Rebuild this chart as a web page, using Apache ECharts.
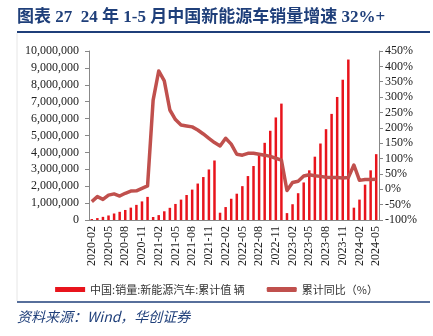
<!DOCTYPE html>
<html>
<head>
<meta charset="utf-8">
<script src="https://cdn.jsdelivr.net/npm/echarts@6/dist/echarts.min.js"></script>
<style>
  html, body { margin: 0; padding: 0; background: #ffffff; }
  #chart { width: 433px; height: 336px; }
</style>
</head>
<body>
<div id="chart"></div>
<script>
// Monthly cumulative NEV sales in China (units) and cumulative YoY growth (%)
const months = [
  '2020-02','2020-03','2020-04','2020-05','2020-06','2020-07','2020-08','2020-09','2020-10','2020-11','2020-12',
  '2021-01','2021-02','2021-03','2021-04','2021-05','2021-06','2021-07','2021-08','2021-09','2021-10','2021-11','2021-12',
  '2022-01','2022-02','2022-03','2022-04','2022-05','2022-06','2022-07','2022-08','2022-09','2022-10','2022-11','2022-12',
  '2023-01','2023-02','2023-03','2023-04','2023-05','2023-06','2023-07','2023-08','2023-09','2023-10','2023-11','2023-12',
  '2024-01','2024-02','2024-03','2024-04','2024-05'
];

const cumulativeSales = [
  57000, 114000, 186000, 268000, 385000, 484000, 594000, 732000, 895000, 1100000, 1367000,
  179000, 289000, 515000, 721000, 950000, 1206000, 1478000, 1799000, 2157000, 2542000, 2990000, 3521000,
  431000, 766000, 1257000, 1556000, 2003000, 2600000, 3194000, 3860000, 4567000, 5280000, 6068000, 6887000,
  408000, 933000, 1586000, 2222000, 2940000, 3747000, 4526000, 5374000, 6278000, 7280000, 8300000, 9495000,
  729000, 1207000, 2090000, 2940000, 3896000
];

const cumulativeYoY = [
  -40, -24, -33, -19, -15, -22, -13, -6, -5, 3, 11,
  290, 385, 353, 258, 227, 209, 206, 203, 193, 180, 166, 152,
  141, 166, 147, 114, 111, 117, 117, 114, 111, 107, 101, 95,
  -4, 22, 26, 43, 47, 44, 42, 39, 38, 38, 37, 38,
  79, 29, 32, 32, 33
];

const leftTicks = { min: 0, max: 10000000, step: 1000000 };
const rightTicks = { min: -100, max: 450, step: 50 };

const titleText = '图表 27  24 年 1-5 月中国新能源车销量增速 32%+';
const sourceText = '资料来源：Wind，华创证券';
const barName = '中国:销量:新能源汽车:累计值 辆';
const lineName = '累计同比（%）';

const navy = '#1f3f7a';
const serif = '"Liberation Serif", "DejaVu Serif", "Noto Sans CJK SC", serif';
const cjk = '"Noto Sans CJK SC", sans-serif';

const chart = echarts.init(document.getElementById('chart'), null, { renderer: 'canvas' });

chart.setOption({
  animation: false,
  backgroundColor: '#ffffff',
  grid: { left: 89, right: 54, top: 51, bottom: 116, containLabel: false },
  legend: {
    top: 279,
    left: 'center',
    itemWidth: 30,
    itemHeight: 5,
    itemGap: 22,
    textStyle: { fontFamily: cjk, fontSize: 11, color: '#333333' },
    data: [
      { name: barName, icon: 'rect' },
      { name: lineName, icon: 'roundRect' }
    ]
  },
  xAxis: {
    type: 'category',
    data: months,
    boundaryGap: true,
    axisLine: { lineStyle: { color: '#888888', width: 1 } },
    axisTick: { interval: 2, length: 4, lineStyle: { color: '#888888' } },
    axisLabel: {
      interval: 2,
      rotate: 90,
      margin: 6,
      fontFamily: serif,
      fontSize: 12,
      color: '#222222'
    },
    splitLine: { show: false }
  },
  yAxis: [
    {
      type: 'value',
      min: leftTicks.min,
      max: leftTicks.max,
      interval: leftTicks.step,
      axisLine: { show: true, lineStyle: { color: '#888888' } },
      axisTick: { show: true, length: 4, lineStyle: { color: '#888888' } },
      axisLabel: {
        margin: 10,
        fontFamily: serif,
        fontSize: 12,
        color: '#222222',
        formatter: v => v.toLocaleString('en-US')
      },
      splitLine: { show: false }
    },
    {
      type: 'value',
      min: rightTicks.min,
      max: rightTicks.max,
      interval: rightTicks.step,
      position: 'right',
      axisLine: { show: true, lineStyle: { color: '#888888' } },
      axisTick: { show: true, length: 4, lineStyle: { color: '#888888' } },
      axisLabel: {
        margin: 6,
        fontFamily: serif,
        fontSize: 12,
        color: '#222222',
        formatter: v => v + '%'
      },
      splitLine: { show: false }
    }
  ],
  series: [
    {
      name: barName,
      type: 'bar',
      yAxisIndex: 0,
      data: cumulativeSales,
      barWidth: 2.5,
      itemStyle: { color: '#e8141c' }
    },
    {
      name: lineName,
      type: 'line',
      yAxisIndex: 1,
      data: cumulativeYoY,
      symbol: 'none',
      lineStyle: { color: '#c0504d', width: 3.5, join: 'round' },
      itemStyle: { color: '#c0504d' }
    }
  ],
  graphic: [
    {
      type: 'text',
      left: 17,
      top: 9,
      style: {
        text: titleText,
        font: 'bold 17px ' + serif,
        fill: navy
      }
    },
    {
      type: 'line',
      shape: { x1: 17, y1: 32, x2: 430, y2: 32 },
      style: { stroke: navy, lineWidth: 2 }
    },
    {
      type: 'line',
      shape: { x1: 17, y1: 33, x2: 17, y2: 301 },
      style: { stroke: '#e6e6e6', lineWidth: 1 }
    },
    {
      type: 'line',
      shape: { x1: 17, y1: 302, x2: 430, y2: 302 },
      style: { stroke: navy, lineWidth: 1.5 }
    },
    {
      type: 'text',
      left: 17,
      top: 310,
      style: {
        text: sourceText,
        font: 'italic 14px ' + cjk,
        fill: navy
      }
    }
  ]
});
</script>
</body>
</html>
